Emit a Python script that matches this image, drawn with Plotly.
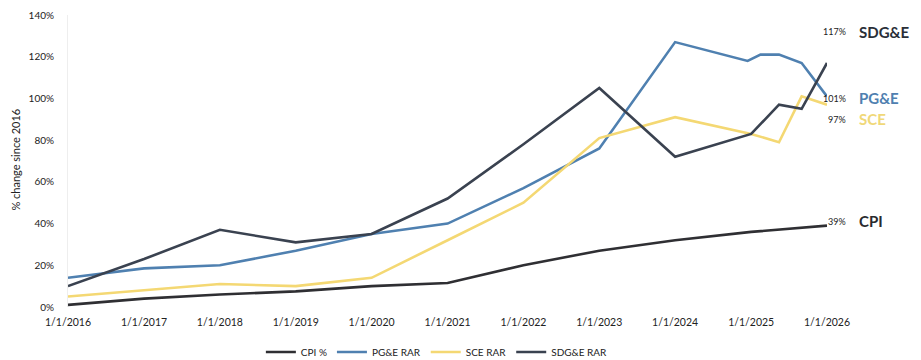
import plotly.graph_objects as go

years = ["2016-01-01", "2017-01-01", "2018-01-01", "2019-01-01", "2020-01-01",
         "2021-01-01", "2022-01-01", "2023-01-01", "2024-01-01", "2025-01-01", "2026-01-01"]
tick_labels = ["1/1/2016", "1/1/2017", "1/1/2018", "1/1/2019", "1/1/2020", "1/1/2021",
               "1/1/2022", "1/1/2023", "1/1/2024", "1/1/2025", "1/1/2026"]

cpi_dates = years
cpi_vals = [1, 4, 6, 7.5, 10, 11.5, 20, 27, 32, 36, 39]

pge_dates = ["2016-01-01", "2017-01-01", "2018-01-01", "2019-01-01", "2020-01-01",
             "2021-01-01", "2022-01-01", "2023-01-01", "2024-01-01", "2024-12-15",
             "2025-02-15", "2025-05-15", "2025-09-01", "2026-01-01"]
pge_vals = [14, 18.5, 20, 27, 35, 40, 57, 76, 127, 118, 121, 121, 117, 101]

sce_dates = ["2016-01-01", "2017-01-01", "2018-01-01", "2019-01-01", "2020-01-01",
             "2021-01-01", "2022-01-01", "2023-01-01", "2024-01-01", "2025-01-01",
             "2025-05-15", "2025-09-01", "2026-01-01"]
sce_vals = [5, 8, 11, 10, 14, 32, 50, 81, 91, 83, 79, 101, 97]

sdge_dates = ["2016-01-01", "2017-01-01", "2018-01-01", "2019-01-01", "2020-01-01",
              "2021-01-01", "2022-01-01", "2023-01-01", "2024-01-01", "2025-01-01",
              "2025-05-15", "2025-09-01", "2026-01-01"]
sdge_vals = [10, 23, 37, 31, 35, 52, 78, 105, 72, 83, 97, 95, 117]

# name, dates, values, line colour, end label, label height (in % units), label colour
series = [
    ("CPI %", cpi_dates, cpi_vals, "#2f2f33", "CPI", 41, "#2a2a2e"),
    ("PG&E RAR", pge_dates, pge_vals, "#4f80b0", "PG&E", 100, "#4f80b0"),
    ("SCE RAR", sce_dates, sce_vals, "#f4d873", "SCE", 90, "#f0d878"),
    ("SDG&E RAR", sdge_dates, sdge_vals, "#3a4250", "SDG&E", 132, "#2a2f38"),
]

FONT = "Lato, 'Open Sans', sans-serif"

fig = go.Figure()
for name, xs, ys, color, short, label_y, lcol in series:
    fig.add_trace(go.Scatter(x=xs, y=ys, mode="lines", name=name,
                             line=dict(color=color, width=2.6)))

annotations = []
for name, xs, ys, color, short, label_y, lcol in series:
    annotations.append(dict(x=1.028, xref="paper", y=label_y, yref="y",
                            text=f"{ys[-1]:g}%", showarrow=False, xanchor="right",
                            font=dict(family=FONT, size=9, color="#222")))
    annotations.append(dict(x=1.04, xref="paper", y=label_y, yref="y",
                            text=f"<b>{short}</b>", showarrow=False, xanchor="left",
                            font=dict(family=FONT, size=15, color=lcol)))
annotations.append(dict(x=-0.0685, xref="paper", y=0.505, yref="paper",
                        xanchor="center", yanchor="middle",
                        text="% change since 2016", textangle=-90, showarrow=False,
                        font=dict(family=FONT, size=11, color="#222")))

fig.update_layout(
    width=913, height=352,
    margin=dict(l=60, r=94, t=7, b=53, autoexpand=False),
    paper_bgcolor="white", plot_bgcolor="white",
    font=dict(family=FONT, size=9, color="#222"),
    showlegend=True,
    legend=dict(orientation="h", x=0.486, xanchor="center", y=-0.154, yanchor="middle",
                font=dict(family=FONT, size=10, color="#222"), itemwidth=30,
                tracegroupgap=0),
    annotations=annotations,
    xaxis=dict(type="date", range=["2016-01-01", "2026-01-01"],
               tickvals=years, ticktext=tick_labels, showgrid=False,
               zeroline=False, showline=False, ticks="",
               tickfont=dict(family=FONT, size=10.5, color="#222"),
               ticklabelstandoff=7, automargin=False),
    yaxis=dict(range=[0, 140], dtick=20, ticksuffix="%", showgrid=False,
               zeroline=False, showline=True, linecolor="#eeeeee", linewidth=1,
               ticks="", tickfont=dict(family=FONT, size=10, color="#222"),
               ticklabelstandoff=11, automargin=False),
)

fig.write_html("out.html")
